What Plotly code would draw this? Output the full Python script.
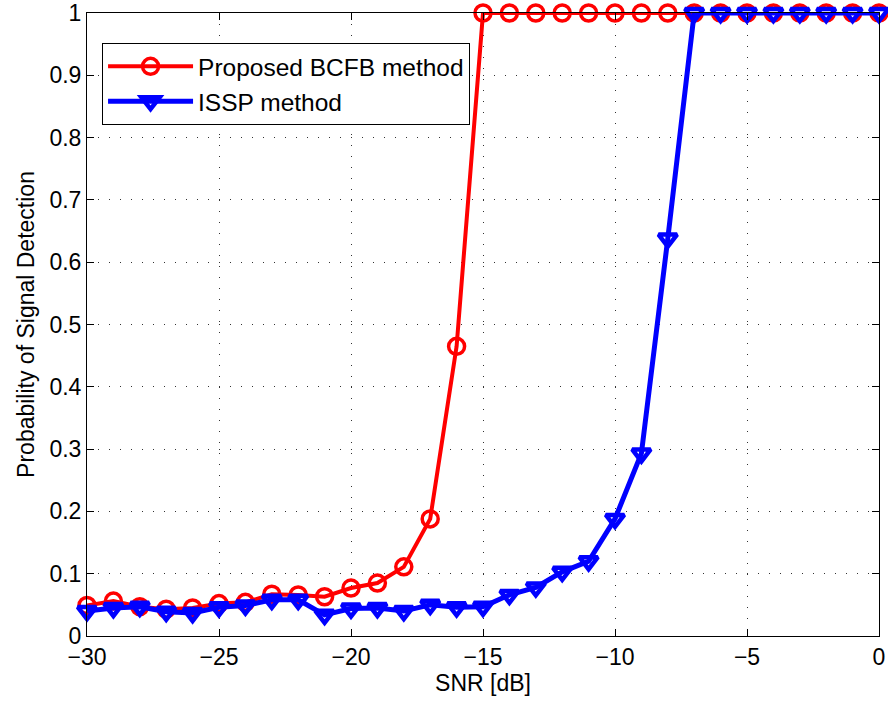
import plotly.graph_objects as go

snr = list(range(-30, 1))
bcfb = [0.049, 0.056, 0.047, 0.043, 0.045, 0.052, 0.054, 0.067, 0.066, 0.063, 0.077, 0.085, 0.111,
        0.188, 0.465, 1.0, 1.0, 1.0, 1.0, 1.0, 1.0, 1.0, 1.0, 1.0, 1.0, 1.0, 1.0, 1.0, 1.0, 1.0, 1.0]
issp = [0.040, 0.045, 0.047, 0.039, 0.037, 0.046, 0.049, 0.058, 0.058, 0.034, 0.044, 0.045, 0.040,
        0.050, 0.046, 0.047, 0.066, 0.078, 0.103, 0.120, 0.188, 0.293, 0.638, 1.0, 1.0, 1.0, 1.0,
        1.0, 1.0, 1.0, 1.0]

FONT = "Liberation Sans, Arial, Helvetica, sans-serif"
FS = 23

fig = go.Figure()
fig.add_trace(go.Scatter(
    x=snr, y=bcfb, mode="lines+markers", name="Proposed BCFB method",
    line=dict(color="#ff0000", width=4),
    marker=dict(symbol="circle-open", size=16, color="#ff0000", line=dict(width=3.5, color="#ff0000")),
    cliponaxis=False))
fig.add_trace(go.Scatter(
    x=snr, y=issp, mode="lines+markers", name="ISSP method",
    line=dict(color="#0000ff", width=5),
    marker=dict(symbol="triangle-down-open", size=16, color="#0000ff", line=dict(width=4.5, color="#0000ff")),
    cliponaxis=False))

axis_common = dict(
    showline=True, linecolor="black", linewidth=1, mirror="ticks",
    ticks="inside", ticklen=7, tickcolor="black", tickwidth=1,
    showgrid=True, gridcolor="#333333", gridwidth=1, griddash="1px,10px",
    zeroline=False, tickfont=dict(family=FONT, size=FS, color="black"),
    automargin=False,
)

fig.update_xaxes(range=[-30, 0], dtick=5, tick0=0,
                 title=dict(text="SNR [dB]", font=dict(family=FONT, size=FS, color="black"), standoff=6),
                 **axis_common)
fig.update_yaxes(range=[0, 1], dtick=0.1, tick0=0,
                 title=dict(text="Probability of Signal Detection", font=dict(family=FONT, size=FS, color="black"), standoff=8),
                 **axis_common)

fig.update_layout(
    width=888, height=702,
    margin=dict(l=87, r=9, t=13, b=66),
    plot_bgcolor="white", paper_bgcolor="white",
    font=dict(family=FONT, size=FS, color="black"),
    legend=dict(x=0.019, y=0.952, xanchor="left", yanchor="top",
                bgcolor="white", bordercolor="black", borderwidth=1,
                font=dict(family=FONT, size=24.5, color="black"),
                itemwidth=85, tracegroupgap=0),
    showlegend=True,
)

fig.write_html("out.html")
